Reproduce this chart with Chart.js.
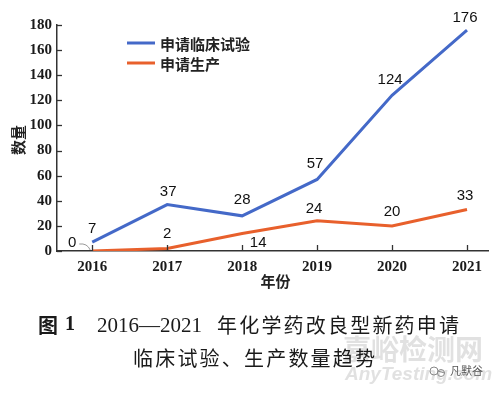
<!DOCTYPE html>
<html>
<head>
<meta charset="utf-8">
<script src="https://cdn.jsdelivr.net/npm/chart.js@4.4.1/dist/chart.umd.min.js"></script>
<style>
  html, body { margin: 0; padding: 0; background: #fff; }
  #wrap { width: 500px; height: 394px; position: relative; }
</style>
</head>
<body>
<div id="wrap"><canvas id="mycanvas" width="500" height="394"></canvas></div>
<script>
// data
var years = [2016, 2017, 2018, 2019, 2020, 2021];
var clinical = [7, 37, 28, 57, 124, 176];
var production = [0, 2, 14, 24, 20, 33];
var yTicks = [0, 20, 40, 60, 80, 100, 120, 140, 160, 180];
var seriesNames = ['申请临床试验', '申请生产'];

var BLUE = '#4469c8';
var ORANGE = '#e8602c';
var CJK = '"Noto Sans CJK SC", sans-serif';
var SERIF = '"Liberation Serif", "Times New Roman", serif';
var SANS = '"Liberation Sans", Arial, sans-serif';

// label offsets (dx, dy) from each point, per series
var labelOffsets = [
    [[0, -13], [1, -13], [0, -16], [-2, -16], [-2, -15], [-2, -12]],
    [[-20, -8], [0, -15], [16, 9], [-3, -12], [0, -14], [-2, -14]]
];

function pts(vals) {
    return vals.map(function (v, i) { return { x: years[i], y: v }; });
}

var extras = {
    id: 'extras',
    afterDraw: function (chart) {
        var ctx = chart.ctx;
        var xs = chart.scales.x, ys = chart.scales.y;
        var area = chart.chartArea;
        ctx.save();

        // inside tick marks
        ctx.strokeStyle = '#333';
        ctx.lineWidth = 1.3;
        years.forEach(function (yr) {
            var px = Math.round(xs.getPixelForValue(yr)) + 0.5;
            ctx.beginPath();
            ctx.moveTo(px, area.bottom);
            ctx.lineTo(px, area.bottom - 6);
            ctx.stroke();
        });
        yTicks.forEach(function (t) {
            var py = Math.round(ys.getPixelForValue(t)) + 0.5;
            ctx.beginPath();
            ctx.moveTo(area.left, py);
            ctx.lineTo(area.left + 5, py);
            ctx.stroke();
        });

        // leader line for the 0 label
        var p0 = chart.getDatasetMeta(1).data[0];
        ctx.strokeStyle = '#999';
        ctx.lineWidth = 1;
        ctx.beginPath();
        ctx.moveTo(p0.x - 13, p0.y - 7);
        ctx.quadraticCurveTo(p0.x - 5, p0.y - 8, p0.x - 2, p0.y - 1);
        ctx.stroke();

        // value labels
        ctx.fillStyle = '#111';
        ctx.font = '15px ' + SANS;
        ctx.textAlign = 'center';
        ctx.textBaseline = 'middle';
        chart.data.datasets.forEach(function (ds, di) {
            var meta = chart.getDatasetMeta(di);
            meta.data.forEach(function (el, i) {
                var off = labelOffsets[di][i];
                ctx.fillText(String(ds.data[i].y), el.x + off[0], el.y + off[1]);
            });
        });

        // legend inside the plot
        var legendY = [43, 63];
        chart.data.datasets.forEach(function (ds, di) {
            ctx.strokeStyle = ds.borderColor;
            ctx.lineWidth = 3;
            ctx.beginPath();
            ctx.moveTo(127, legendY[di]);
            ctx.lineTo(155, legendY[di]);
            ctx.stroke();
            ctx.fillStyle = '#222';
            ctx.font = 'bold 15px ' + CJK;
            ctx.textAlign = 'left';
            ctx.fillText(ds.label, 160, legendY[di] + 1);
        });

        // axis titles
        ctx.fillStyle = '#222';
        ctx.font = 'bold 15px ' + CJK;
        ctx.textAlign = 'center';
        ctx.fillText('年份', (area.left + area.right) / 2 + 3, 281);
        ctx.save();
        ctx.translate(18, 140);
        ctx.rotate(-Math.PI / 2);
        ctx.fillText('数量', 0, 0);
        ctx.restore();

        // watermark
        ctx.fillStyle = 'rgba(200,200,200,0.55)';
        ctx.font = 'bold 28px ' + CJK;
        ctx.textAlign = 'left';
        ctx.fillText('嘉峪检测网', 343, 349);
        ctx.font = 'italic bold 19px ' + SANS;
        ctx.fillText('AnyTesting.com', 345, 375);

        // caption
        ctx.fillStyle = '#1a1a1a';
        ctx.textAlign = 'left';
        ctx.font = 'bold 20px ' + CJK;
        ctx.fillText('图', 38, 325);
        ctx.font = 'bold 20px ' + SERIF;
        ctx.fillText('1', 65, 325);
        ctx.font = '21px ' + SERIF;
        ctx.fillText('2016—2021', 97, 326);
        ctx.font = '20px ' + CJK;
        ctx.letterSpacing = '2.2px';
        ctx.fillText('年化学药改良型新药申请', 217, 325);
        ctx.fillText('临床试验、生产数量趋势', 133, 358);
        ctx.letterSpacing = '0px';

        // small account mark
        ctx.fillStyle = '#555';
        ctx.font = '11px ' + CJK;
        ctx.fillText('凡默谷', 450, 371);
        ctx.strokeStyle = '#888';
        ctx.lineWidth = 1;
        ctx.beginPath();
        ctx.arc(434, 371, 4, 0, Math.PI * 2);
        ctx.arc(441, 373, 3.5, 0, Math.PI * 2);
        ctx.stroke();

        ctx.restore();
    }
};

var ctx = document.getElementById('mycanvas');

var chart = new Chart(ctx, {
    type: 'line',
    data: {
        datasets: [
            {
                label: seriesNames[0],
                data: pts(clinical),
                borderColor: BLUE,
                backgroundColor: BLUE,
                borderWidth: 3,
                pointRadius: 0,
                tension: 0
            },
            {
                label: seriesNames[1],
                data: pts(production),
                borderColor: ORANGE,
                backgroundColor: ORANGE,
                borderWidth: 3,
                pointRadius: 0,
                tension: 0
            }
        ]
    },
    options: {
        responsive: false,
        animation: false,
        events: [],
        layout: { padding: { top: 25, right: 12, bottom: 0, left: 0 } },
        plugins: {
            legend: { display: false },
            tooltip: { enabled: false }
        },
        scales: {
            x: {
                type: 'linear',
                min: 2015.53,
                max: 2021.28,
                afterBuildTicks: function (scale) {
                    scale.ticks = years.map(function (v) { return { value: v }; });
                },
                afterFit: function (scale) { scale.height = 143; },
                grid: { display: false, drawTicks: false },
                border: { display: true, color: '#333', width: 1.5 },
                ticks: {
                    autoSkip: false,
                    maxRotation: 0,
                    padding: 7,
                    color: '#1a1a1a',
                    font: { family: SERIF, size: 15, weight: 'bold' },
                    callback: function (v) { return String(v); }
                }
            },
            y: {
                min: 0,
                max: 180,
                afterBuildTicks: function (scale) {
                    scale.ticks = yTicks.map(function (v) { return { value: v }; });
                },
                afterFit: function (scale) { scale.width = 57; },
                grid: { display: false, drawTicks: false },
                border: { display: true, color: '#333', width: 1.5 },
                ticks: {
                    padding: 5,
                    color: '#1a1a1a',
                    font: { family: SERIF, size: 15, weight: 'bold' }
                }
            }
        }
    },
    plugins: [extras]
});
</script>
</body>
</html>
